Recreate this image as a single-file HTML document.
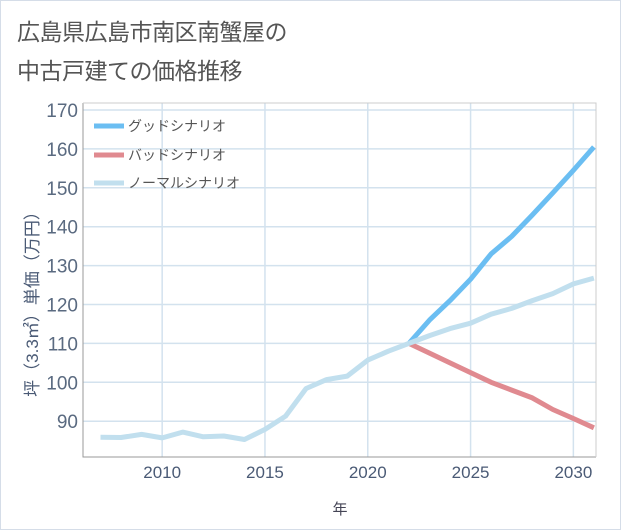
<!DOCTYPE html>
<html><head><meta charset="utf-8"><style>
body{margin:0;background:#fff;}
svg{display:block;font-family:"Liberation Sans","Noto Sans CJK JP",sans-serif;}
</style></head><body>
<svg width="621" height="530" viewBox="0 0 621 530">
<rect x="0.5" y="0.5" width="620" height="529" fill="#fff" stroke="#d5dde8"/>
<text x="17" y="40" font-size="23" fill="#555" letter-spacing="-0.5">広島県広島市南区南蟹屋の</text>
<text x="17" y="79" font-size="23" fill="#555" letter-spacing="-0.5">中古戸建ての価格推移</text>
<g id="grid"></g>
<g id="series"></g>
<g id="axes"></g>
<g>
<line x1="94" y1="126" x2="124" y2="126" stroke="#6bbef2" stroke-width="5"/>
<text x="128" y="131" font-size="14" fill="#555">グッドシナリオ</text>
<line x1="94" y1="155" x2="124" y2="155" stroke="#e08a90" stroke-width="5"/>
<text x="128" y="160" font-size="14" fill="#555">バッドシナリオ</text>
<line x1="94" y1="183" x2="124" y2="183" stroke="#c1dfee" stroke-width="5"/>
<text x="128" y="188" font-size="14" fill="#555">ノーマルシナリオ</text>
</g>
<text x="340" y="514" font-size="15" fill="#445" text-anchor="middle">年</text>
<text transform="translate(38,300) rotate(-90)" font-size="17" fill="#4a5a75" text-anchor="middle">坪（3.3㎡）単価（万円）</text>
</svg>
<script>
const histYears=[2007,2008,2009,2010,2011,2012,2013,2014,2015,2016,2017,2018,2019,2020,2021,2022];
const histValues=[85.9,85.8,86.6,85.7,87.2,86.0,86.2,85.3,87.9,91.3,98.4,100.7,101.6,105.7,108,110];
const projYears=[2022,2023,2024,2025,2026,2027,2028,2029,2030,2031];
const goodValues=[110,116,121,126.5,133,137.5,143,148.7,154.5,160.5];
const badValues=[110,107.5,105,102.5,100,98,96,93,90.7,88.3];
const normalValues=[110,112,113.8,115.2,117.5,119,121,122.8,125.3,126.8];
const xTicks=[2010,2015,2020,2025,2030];
const yTicks=[90,100,110,120,130,140,150,160,170];
const L=83,R=596,T=103,B=457;
const X0=2006.15,X1=2031.1,Y0=80.8,Y1=171.8;
const xs=v=>L+(v-X0)/(X1-X0)*(R-L);
const ys=v=>B-(v-Y0)/(Y1-Y0)*(B-T);
const NS="http://www.w3.org/2000/svg";
function mk(tag,attrs,parent){const e=document.createElementNS(NS,tag);for(const k in attrs)e.setAttribute(k,attrs[k]);parent.appendChild(e);return e;}
const grid=document.getElementById('grid'),axes=document.getElementById('axes'),series=document.getElementById('series');
for(const t of yTicks){
 const l=mk('line',{x1:L,x2:R,y1:ys(t),y2:ys(t),stroke:'#d3e2ee','stroke-width':1.5},grid);
 
 
 const tx=mk('text',{x:78,y:ys(t)+7,'font-size':19,fill:'#5a6a80','text-anchor':'end'},axes);
 tx.textContent=t;
 
 
}
for(const t of xTicks){
 const l=mk('line',{x1:xs(t),x2:xs(t),y1:T,y2:B,stroke:'#d3e2ee','stroke-width':1.5},grid);
 
 
 const tx=mk('text',{x:xs(t),y:478,'font-size':17,fill:'#4a5a75','text-anchor':'middle'},axes);
 tx.textContent=t;
 
 
}
const frame=mk('path',{d:`M${L},${T}V${B}H${R}`,stroke:'#999',fill:'none','stroke-width':1},axes);


const fr2=mk('path',{d:`M${L},${T}H${R}V${B}`,stroke:'#ccc',fill:'none','stroke-width':1},axes);


function line(xv,yv,color,name){
 const d=xv.map((x,i)=>(i?'L':'M')+xs(x).toFixed(1)+','+ys(yv[i]).toFixed(1)).join('');
 const p=mk('path',{d:d,stroke:color,'stroke-width':5,fill:'none','stroke-linejoin':'round'},series);
 
 
}
line(projYears,badValues,'#e08a90','bad-scenario-line');
line(projYears,goodValues,'#6bbef2','good-scenario-line');
line(projYears,normalValues,'#c1dfee','normal-scenario-line');
line(histYears,histValues,'#c1dfee','historical-line');
</script>
</body></html>
